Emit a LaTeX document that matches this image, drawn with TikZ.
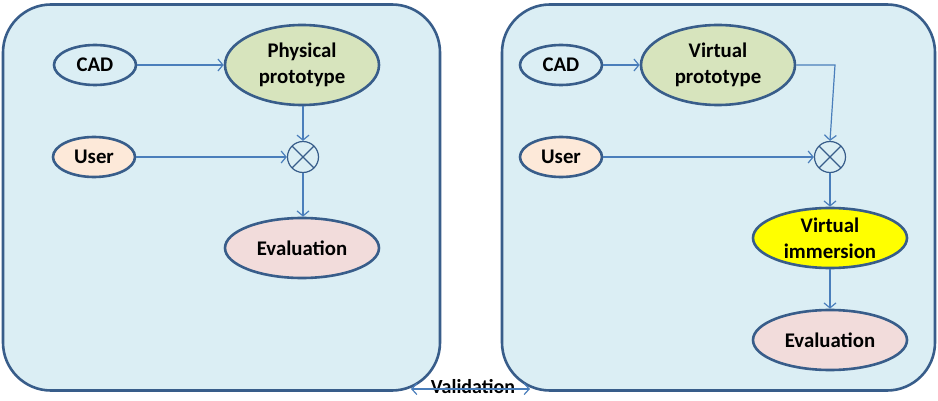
\documentclass[tikz,border=0pt]{standalone}
\usepackage{fontspec}
\setmainfont{Carlito}
\usetikzlibrary{arrows.meta,shapes.geometric}
\definecolor{panelfill}{RGB}{219,238,244}
\definecolor{boxblue}{RGB}{56,93,138}
\definecolor{arrowblue}{RGB}{74,126,187}
\definecolor{protofill}{RGB}{215,228,189}
\definecolor{userfill}{RGB}{253,233,217}
\definecolor{evalfill}{RGB}{242,220,219}
\definecolor{immfill}{RGB}{255,255,0}
\begin{document}
\begin{tikzpicture}[x=1pt,y=-1pt,
  panel/.style={draw=boxblue, line width=2.6pt, fill=panelfill, rounded corners=48pt, inner sep=0pt},
  ell/.style={ellipse, draw=boxblue, line width=2.6pt, inner sep=0pt, align=center, text=black,
              font=\bfseries\fontsize{20.8}{26}\selectfont},
  small/.style={ell, minimum width=82pt, minimum height=40pt},
  big/.style={ell, minimum width=154pt, minimum height=80pt},
  mid/.style={ell, minimum width=154pt, minimum height=60pt},
  mult/.style={circle, draw=boxblue, line width=1.2pt, minimum size=31pt, inner sep=0pt,
               path picture={\draw[boxblue, line width=1.2pt]
                 (path picture bounding box.north west) -- (path picture bounding box.south east)
                 (path picture bounding box.north east) -- (path picture bounding box.south west);}},
  conn/.style={draw=arrowblue, line width=1.2pt, -{Straight Barb[length=5pt,width=12pt]}},
  ]
\useasboundingbox[fill=white] (0,0) rectangle (938,401);
% panels
\node[panel, minimum width=437pt, minimum height=386pt] (lpanel) at (221.5,197.5) {};
\node[panel, minimum width=433pt, minimum height=386pt] (rpanel) at (718.5,197.5) {};
% left
\node[small, fill=panelfill] (lcad) at (95,65) {CAD};
\node[big, fill=protofill] (lproto) at (302,65) {Physical\\prototype};
\node[small, fill=userfill] (luser) at (94,157) {User};
\node[mult] (lx) at (303,157) {};
\node[mid, fill=evalfill] (leval) at (302,248) {Evaluation};
\draw[conn] (lcad) -- (lproto);
\draw[conn] (lproto.south -| lx) -- (lx);
\draw[conn] (luser) -- (lx);
\draw[conn] (lx) -- (leval.north -| lx);
% right
\node[small, fill=panelfill] (rcad) at (561,65) {CAD};
\node[big, fill=protofill] (rproto) at (718,65) {Virtual\\prototype};
\node[small, fill=userfill] (ruser) at (561,157) {User};
\node[mult] (rx) at (830,157) {};
\node[mid, fill=immfill] (rimm) at (830,238) {Virtual\\immersion};
\node[mid, fill=evalfill] (reval) at (830,340) {Evaluation};
\coordinate (rbend) at (835,65);
\draw[conn] (rcad) -- (rproto);
\draw[conn] (rproto.east) -- (rbend) -- (rx.north);
\draw[conn] (ruser) -- (rx);
\draw[conn] (rx) -- (rimm);
\draw[conn] (rimm) -- (reval);
% validation
\node[font=\bfseries\fontsize{20}{22}\selectfont, inner sep=0pt] (val) at (473,387) {Validation};
\coordinate (vl) at (411,389);
\coordinate (vr) at (530,389);
\draw[draw=arrowblue, line width=1.2pt, {Straight Barb[length=5pt,width=11pt]}-{Straight Barb[length=5pt,width=11pt]}] (vl) -- (vr);
\end{tikzpicture}
\end{document}
